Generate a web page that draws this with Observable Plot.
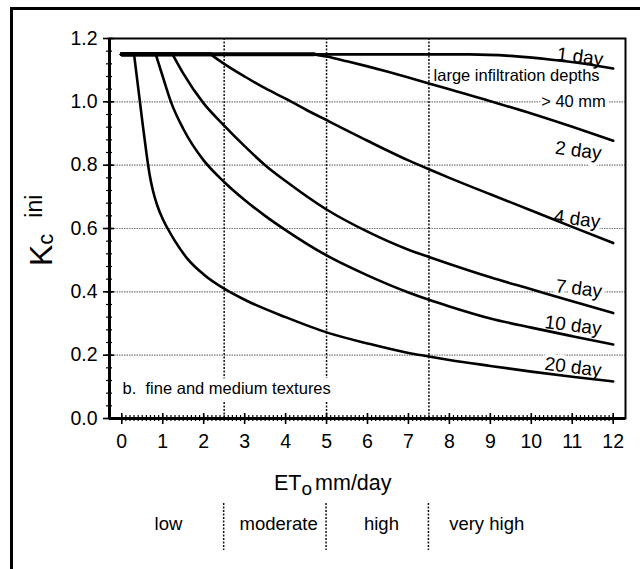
<!DOCTYPE html>
<html><head><meta charset="utf-8">
<script src="https://cdn.jsdelivr.net/npm/d3@7"></script>
<script src="https://cdn.jsdelivr.net/npm/@observablehq/plot@0.6"></script>
<style>
body{margin:0;background:#fff;}
#wrap{position:relative;width:640px;height:569px;overflow:hidden;background:#fff;}
#border{position:absolute;left:10px;top:7px;width:700px;height:700px;border-left:3px solid #000;border-top:3px solid #000;pointer-events:none;}
</style></head><body>
<div id="wrap"><div id="chart"></div><div id="border"></div></div>
<script>
// ---- data ----
const day1X  = [0, 8.5, 9.5, 10.5, 11.3, 12];
const day1Y  = [1.15, 1.15, 1.145, 1.133, 1.12, 1.105];
const day2X  = [4.7, 5, 5.5, 6, 6.5, 7, 7.5, 8, 9, 10, 11, 12];
const day2Y  = [1.15, 1.143, 1.128, 1.112, 1.095, 1.077, 1.058, 1.04, 1.002, 0.963, 0.921, 0.877];
const day4X  = [2.17, 2.5, 3, 3.5, 4, 4.5, 5, 6, 7, 7.5, 8, 9, 10, 11, 12];
const day4Y  = [1.15, 1.12, 1.08, 1.043, 1.01, 0.975, 0.942, 0.877, 0.815, 0.787, 0.76, 0.708, 0.657, 0.605, 0.554];
const day7X  = [1.24, 1.5, 2, 2.5, 3, 3.5, 4, 5, 6, 7, 7.5, 8, 9, 10, 11, 12];
const day7Y  = [1.15, 1.09, 0.995, 0.925, 0.86, 0.8, 0.75, 0.66, 0.59, 0.533, 0.51, 0.488, 0.446, 0.408, 0.37, 0.333];
const day10X = [0.83, 1, 1.2, 1.5, 2, 2.5, 3, 3.5, 4, 5, 6, 7, 7.5, 8, 9, 10, 11, 12];
const day10Y = [1.15, 1.08, 1.0, 0.915, 0.815, 0.747, 0.69, 0.64, 0.595, 0.515, 0.452, 0.398, 0.375, 0.354, 0.316, 0.287, 0.26, 0.234];
const day20X = [0.3, 0.4, 0.5, 0.6, 0.68, 0.76, 0.86, 1.0, 1.12, 1.3, 1.6, 2, 2.5, 3, 4, 5, 6, 7, 7.5, 8, 9, 10, 11, 12];
const day20Y = [1.15, 1.045, 0.94, 0.84, 0.77, 0.72, 0.675, 0.63, 0.6, 0.56, 0.505, 0.455, 0.41, 0.375, 0.32, 0.272, 0.237, 0.207, 0.196, 0.185, 0.166, 0.148, 0.132, 0.117];

const dayLabels = ["1 day", "2 day", "4 day", "7 day", "10 day", "20 day"];
const dayLabelX = [11.19, 11.15, 11.12, 11.16, 11.02, 11.02];
const dayLabelY = [1.142, 0.846, 0.63, 0.41, 0.294, 0.162];

const noteTexts = ["large infiltration depths", "> 40 mm"];
const noteX = [9.64, 11.03];
const noteY = [1.083, 1.0];

const panelText = "b.\u00a0 fine and medium textures";
const panelX = [0.02];
const panelY = [0.095];

const classLabels = ["low", "moderate", "high", "very high"];
const classX = [1.14, 3.83, 6.34, 8.91];
const classBreaks = [2.5, 5, 7.5];

const xTicks = [0,1,2,3,4,5,6,7,8,9,10,11,12];
const yTicks = [0, 0.2, 0.4, 0.6, 0.8, 1.0, 1.2];
const yGrid = [0.2, 0.4, 0.6, 0.8, 1.0];
const xMinor = d3.range(0, 121).map(i => i / 10);
const yMinor = d3.range(0, 31).map(i => +(i * 0.04).toFixed(2));
const xDomain = [-0.3, 12.3];
const yDomain = [0, 1.2];

// ---- tables ----
const series = [
  {name: "1 day", x: day1X, y: day1Y},
  {name: "2 day", x: day2X, y: day2Y},
  {name: "4 day", x: day4X, y: day4Y},
  {name: "7 day", x: day7X, y: day7Y},
  {name: "10 day", x: day10X, y: day10Y},
  {name: "20 day", x: day20X, y: day20Y}
];
const lineData = series.flatMap(s => s.x.map((x, i) => ({series: s.name, et0: x, kc: s.y[i]})));
// shared initial plateau of each curve (from ETo = 0 up to where the curve departs)
const plateauData = series.flatMap(s => [
  {series: s.name, et0: day1X[0], kc: s.y[0]},
  {series: s.name, et0: s.x[0], kc: s.y[0]}
]);
const labelData = dayLabels.map((t, i) => ({t, x: dayLabelX[i], y: dayLabelY[i]}));
const noteData = noteTexts.map((t, i) => ({t, x: noteX[i], y: noteY[i]}));
const panelData = [{t: panelText, x: panelX[0], y: panelY[0]}];
const classData = classLabels.map((t, i) => ({t, x: classX[i]}));
const breakData = classBreaks.map(b => ({b, lo: yDomain[0], hi: yDomain[1]}));

const font = "'Liberation Sans', Arial, Helvetica, sans-serif";

const plot = Plot.plot({
  width: 640, height: 569,
  marginLeft: 109, marginRight: 15, marginTop: 38, marginBottom: 151,
  style: {fontFamily: font, fontSize: "19.5px", color: "black", background: "white", overflow: "visible"},
  x: {domain: xDomain, label: null},
  y: {domain: yDomain, label: null},
  marks: [
    Plot.ruleY(yGrid, {stroke: "#777", strokeWidth: 1.2, strokeDasharray: "1.5,1"}),
    Plot.ruleX(breakData, {x: "b", y1: "lo", y2: "hi", stroke: "#111", strokeWidth: 1.5, strokeDasharray: "2,1.5"}),
    Plot.text(labelData, {x: "x", y: "y", text: "t", rotate: 7, fontSize: 19, fill: "black", stroke: "white", strokeWidth: 8, paintOrder: "stroke"}),
    Plot.text(noteData, {x: "x", y: "y", text: "t", fontSize: 16.5, fill: "black", stroke: "white", strokeWidth: 6, paintOrder: "stroke"}),
    Plot.text(panelData, {x: "x", y: "y", text: "t", textAnchor: "start", fontSize: 16.5, fill: "black", stroke: "white", strokeWidth: 14, paintOrder: "stroke"}),
    Plot.line(plateauData, {x: "et0", y: "kc", z: "series", stroke: "black", strokeWidth: 4}),
    Plot.line(lineData, {x: "et0", y: "kc", z: "series", stroke: "black", strokeWidth: 2.6, curve: "monotone-x"}),
    Plot.frame({stroke: "black", strokeWidth: 2}),
    Plot.ruleX([xDomain[0]], {stroke: "black", strokeWidth: 3}),
    Plot.ruleY([0], {stroke: "black", strokeWidth: 3}),
    // minor ticks crossing the axes
    Plot.axisX(xMinor, {tickSize: 6, dy: -3, fill: "none", strokeWidth: 1.2, label: null}),
    Plot.axisY(yMinor, {tickSize: 6, dx: 3, fill: "none", strokeWidth: 1.2, label: null}),
    // major ticks crossing the axes
    Plot.axisX(xTicks, {tickSize: 11, dy: -5, fill: "none", strokeWidth: 1.6, label: null}),
    Plot.axisY(yTicks, {tickSize: 11, dx: 5, fill: "none", strokeWidth: 1.6, label: null}),
    // tick labels
    Plot.axisX(xTicks, {tickSize: 0, tickPadding: 16, label: null, tickFormat: d3.format("d")}),
    Plot.axisY(yTicks, {tickSize: 0, tickPadding: 12, label: null, tickFormat: d3.format(".1f")}),
    // ETo class names below the axis
    Plot.text(classData, {x: "x", text: "t", frameAnchor: "bottom", lineAnchor: "middle", dy: 106, fontSize: 18.5, fill: "black"})
  ]
});
document.getElementById("chart").append(plot);

const svg = d3.select(plot);
const xs = plot.scale("x");
// separators between ETo classes
svg.append("g").attr("stroke", "#111").attr("stroke-width", 1.5).attr("stroke-dasharray", "2,1.5")
  .selectAll("line").data(classBreaks).join("line")
  .attr("x1", d => xs.apply(d)).attr("x2", d => xs.apply(d))
  .attr("y1", 503).attr("y2", 550);
// y-axis title: K c ini
const yl = svg.append("text").attr("transform", "translate(52,266) rotate(-90)")
  .attr("text-anchor", "start").attr("font-family", font).attr("fill", "black");
yl.append("tspan").attr("font-size", 32).text("K");
yl.append("tspan").attr("font-size", 22).attr("dy", 1).text("c");
yl.append("tspan").attr("font-size", 23).attr("dx", 16).attr("dy", -11).text("ini");
// x-axis title: ETo mm/day
const xl = svg.append("text").attr("x", 274).attr("y", 490)
  .attr("text-anchor", "start").attr("font-family", font).attr("fill", "black");
xl.append("tspan").attr("font-size", 21.5).text("ET");
xl.append("tspan").attr("font-size", 19).attr("dy", 5).text("o");
xl.append("tspan").attr("font-size", 21.5).attr("dy", -5).attr("dx", 3).text("mm/day");
</script>
</body></html>
